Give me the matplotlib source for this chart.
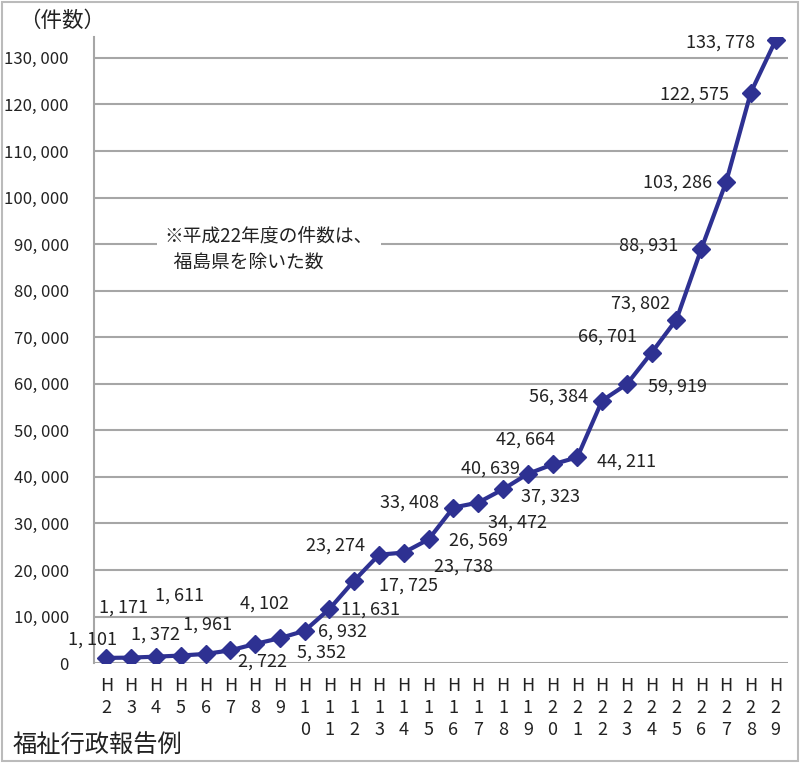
import matplotlib
matplotlib.use("Agg")
import matplotlib.pyplot as plt
from matplotlib.patches import Rectangle

plt.rcParams['font.family'] = ['Noto Sans CJK JP', 'DejaVu Sans']

# 年度と件数
years = ["2", "3", "4", "5", "6", "7", "8", "9", "10", "11", "12", "13", "14", "15",
         "16", "17", "18", "19", "20", "21", "22", "23", "24", "25", "26", "27", "28", "29"]
counts = [1101, 1171, 1372, 1611, 1961, 2722, 4102, 5352, 6932, 11631, 17725, 23274,
          23738, 26569, 33408, 34472, 37323, 40639, 42664, 44211, 56384, 59919, 66701,
          73802, 88931, 103286, 122575, 133778]

# ラベルの位置（ピクセル）
offsets = [(-14, 18), (-8, 50), (0, 22), (-1, 60), (2, 29), (32, -11), (9, 40), (42, -14),
           (38, -1), (41, -1), (54, -5), (-44, 9), (60, -14), (50, -1), (-44, 5), (39, -20),
           (48, -7), (-37, 5), (-27, 25), (49, -4), (-44, 4), (51, -2), (-44, 16), (-36, 16),
           (-53, 3), (-48, 0), (-56, -2), (-55, -2)]

fig = plt.figure(figsize=(8, 7.63), dpi=100)
ax = fig.add_axes([0.1175, 0.131, 0.8675, 0.8205])

x = list(range(len(years)))
ax.plot(x, counts, color='#2E3192', lw=3, marker='D', markersize=9, zorder=3)

for i, (v, off) in enumerate(zip(counts, offsets)):
    ax.annotate(f"{v:,}".replace(",", ", "), (i, v), xytext=off, textcoords='offset pixels',
                ha='center', va='center', fontsize=13, color='#222222', zorder=4)

ax.set_xlim(-0.5, len(years) - 0.5)
ax.set_ylim(0, 134500)
ax.set_yticks(range(0, 130001, 10000))
ax.set_yticklabels([f"{t:,}".replace(",", ", ") for t in range(0, 130001, 10000)],
                   fontsize=12, color='#222222')
ax.set_xticks(x)
ax.set_xticklabels(["\n".join("H" + y) for y in years], fontsize=13,
                   color='#222222', linespacing=1.28, va='top')
ax.tick_params(axis='y', length=0, pad=18)
ax.tick_params(axis='x', length=0, pad=10)

ax.grid(axis='y', color='#A6A6A6', lw=1.5, zorder=0)
ax.set_axisbelow(True)
for s in ['top', 'right', 'bottom']:
    ax.spines[s].set_visible(False)
ax.spines['left'].set_color('#A6A6A6')
ax.spines['left'].set_linewidth(1.5)

# 注記
ax.text(0.102, 0.661, "※平成22年度の件数は、\n  福島県を除いた数", transform=ax.transAxes,
        fontsize=13.5, color='#222222', va='center', ha='left', linespacing=1.3,
        bbox=dict(facecolor='white', edgecolor='none', pad=6), zorder=5)

fig.text(0.024, 0.972, "（件数）", fontsize=15.5, color='#222222', va='center', ha='left')
fig.text(0.016, 0.023, "福祉行政報告例", fontsize=17.5, color='#222222', va='center', ha='left')

fig.patches.append(Rectangle((0.002, 0.002), 0.996, 0.996, transform=fig.transFigure,
                             fill=False, edgecolor='#BBBBBB', lw=1.5))

fig.savefig("out.png", dpi=100)
